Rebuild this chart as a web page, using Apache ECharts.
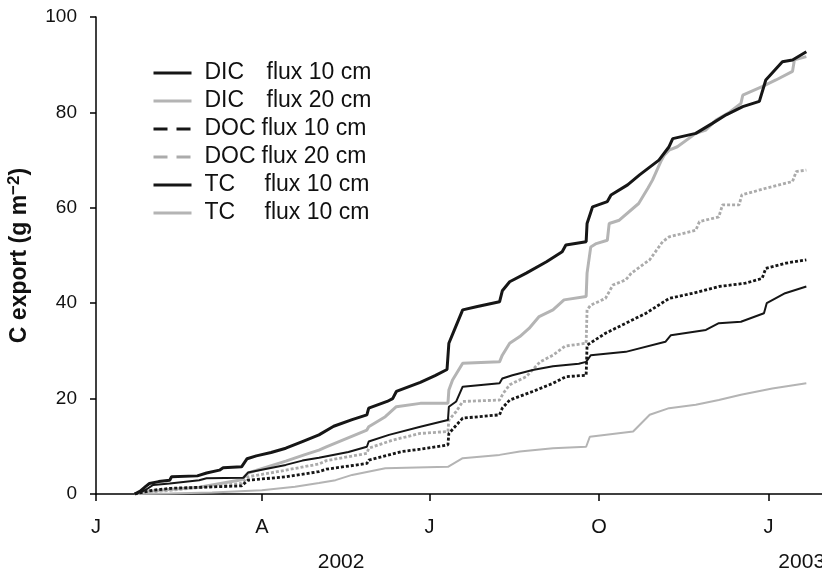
<!DOCTYPE html>
<html>
<head>
<meta charset="utf-8">
<script src="https://cdn.jsdelivr.net/npm/echarts@6/dist/echarts.min.js"></script>
<style>html,body{margin:0;padding:0;background:#fff;}#c{width:822px;height:570px;}</style>
</head>
<body>
<div id="c"></div>
<script>
// x values are days since 1 Jan 2002
const monthTickDays = [0, 90, 181, 273, 365];
const monthTickLabels = ['J', 'A', 'J', 'O', 'J'];
const yearLabelDays = [133, 383];
const yearLabels = ['2002', '2003'];

const tc10 = [[21,0],[24,0.6],[27,1.6],[29,2.2],[34,2.6],[40,2.9],[41,3.6],[55,3.8],[60,4.4],[67,5.0],[69,5.5],[79,5.7],[82,7.4],[87,8.0],[95,8.7],[103,9.6],[112,11.0],[121,12.4],[129,14.2],[139,15.6],[147,16.6],[148,18.0],[158,19.4],[161,20.0],[163,21.5],[176,23.4],[184,24.8],[190.5,26.1],[191.5,31.6],[194.5,34.4],[199,38.6],[207,39.3],[219,40.3],[220.5,42.6],[224.5,44.5],[233.5,46.3],[244.5,48.7],[253,50.8],[255,52.2],[266,52.9],[266.5,56.7],[269.5,60.2],[277.5,61.3],[279.5,62.7],[288.5,64.8],[295,66.9],[305.5,70.0],[311,72.8],[313,74.5],[325.5,75.6],[334.5,77.7],[342,79.5],[351,81.2],[360,82.3],[363.5,86.8],[372.5,90.6],[378,91.0],[385.5,92.7]];

const dic10 = [[21,0],[25,0.5],[27.5,1.0],[31,1.9],[40,2.2],[41,2.6],[56,2.9],[60,3.3],[80,3.4],[82.5,4.5],[103,6.1],[112,7.0],[121,7.6],[137,8.8],[147,9.9],[148,11.0],[159,12.4],[176,14.1],[191,15.5],[191.5,18.3],[195.5,19.4],[199,22.5],[219,23.2],[220.5,24.2],[226,24.9],[237,26.0],[248,26.8],[262,27.3],[266,27.7],[268.5,29.1],[287.5,29.8],[309,31.9],[312,33.3],[331,34.4],[338,35.8],[350,36.1],[362.5,37.9],[364,40.0],[374,42.1],[385.5,43.5]];

const doc10 = [[21,0],[26,0.4],[31,0.8],[41,1.2],[79,1.7],[82.5,2.9],[103,3.6],[121,4.7],[125,5.2],[147,6.4],[148,7.1],[166,8.9],[176,9.4],[191,10.3],[191.5,12.7],[199,15.9],[219,16.6],[220.5,18.0],[224.5,19.7],[237,21.5],[248,23.2],[255,24.6],[266,24.9],[266.5,31.2],[276.5,33.7],[287.5,35.8],[298.5,37.9],[311,41.0],[324,42.1],[338,43.5],[352.5,44.2],[361.5,45.2],[363.5,47.3],[374.5,48.4],[385.5,49.1]];

const doc20 = [[21,0],[28,0.4],[41,0.8],[79,2.2],[82.5,3.6],[103,5.0],[121,6.3],[125,7.0],[147,8.5],[148,9.6],[161,11.3],[176,12.7],[191,13.1],[191.5,15.5],[195.5,17.3],[199,19.4],[219,19.7],[221,21.1],[224.5,22.9],[233.5,24.6],[241,27.7],[248,29.1],[254.5,31.0],[266,31.6],[266.5,38.6],[268.5,39.6],[276.5,41.0],[280.5,43.8],[287.5,44.9],[290.5,46.3],[300.5,49.1],[307.5,52.9],[311,53.9],[325.5,55.3],[327.5,57.1],[338,58.1],[340,60.6],[349,60.6],[350.5,62.7],[363.5,64.1],[378,65.5],[380,67.6],[385.5,67.9]];

const dic20 = [[21,0],[40,0.1],[63,0.3],[90,0.8],[108,1.5],[121,2.3],[130,2.9],[139,4.0],[157,5.4],[191,5.7],[199,7.5],[219,8.2],[230,8.9],[248,9.6],[266,9.9],[268,12.0],[291.5,13.1],[300.5,16.6],[311,18.0],[325.5,18.7],[338,19.7],[350,20.8],[367,22.1],[385.5,23.2]];

const tc20 = [[21,0],[27,0.5],[41,1.0],[56,1.4],[79,3.0],[82.5,4.4],[103,6.9],[113,8.2],[121,9.2],[125,9.9],[147,13.4],[148,14.1],[157,16.2],[163,18.3],[176,19.0],[191,19.0],[191.5,21.8],[193.5,23.9],[199,27.4],[219,27.7],[220.5,29.1],[224.5,31.6],[230,33.0],[235,34.7],[240.5,37.2],[248,38.6],[254,40.7],[266,41.4],[266.5,46.3],[268.5,51.8],[271.5,52.5],[277.5,53.2],[278.5,56.7],[284,57.4],[294.5,60.9],[299.5,64.1],[302,65.8],[306.5,69.7],[308.5,71.1],[311,72.1],[315.5,72.8],[325.5,75.6],[331,76.3],[336.5,78.4],[344,80.1],[350,81.9],[351,83.6],[361.5,85.4],[369,86.8],[378,88.6],[379,91.0],[385.5,91.7]];

// legend rows in the original figure (labels as printed there)
const legendOrder = ['TC10', 'TC20', 'DOC10', 'DOC20', 'DIC10', 'DIC20'];
const legendText = {
  TC10: '{kd|DIC}{v|flux 10 cm}',
  TC20: '{kd|DIC}{v|flux 20 cm}',
  DOC10: '{ko|DOC}{v|flux 10 cm}',
  DOC20: '{ko|DOC}{v|flux 20 cm}',
  DIC10: '{kt|TC}{v|flux 10 cm}',
  DIC20: '{kt|TC}{v|flux 10 cm}'
};

const BLACK = '#161616', GREY = '#b4b4b4', GREYD = '#ababab';
const FONT = "'Liberation Sans', Arial, sans-serif";

function mk(name, data, color, width, type) {
  return {
    name: name, type: 'line', data: data, symbol: 'none', showSymbol: false,
    lineStyle: { color: color, width: width, type: type || 'solid', cap: 'butt' },
    itemStyle: { color: color },
    emphasis: { disabled: true }, silent: true, animation: false
  };
}

const chart = echarts.init(document.getElementById('c'), null, { renderer: 'canvas' });
const rowLH = 28;
const LF = 23;
chart.setOption({
  backgroundColor: '#ffffff',
  animation: false,
  grid: { left: 96, right: 0, top: 17, bottom: 76, containLabel: false, outerBoundsMode: 'none' },
  legend: {
    orient: 'vertical', left: 152, top: 59, padding: 0,
    itemWidth: 38, itemHeight: 14, itemGap: 0,
    itemStyle: { opacity: 0 },
    data: legendOrder.map(function (n) {
      const o = { name: n };
      if (n.indexOf('DOC') === 0) o.lineStyle = { type: [14, 9], width: 3 };
      else o.lineStyle = { width: 3 };
      return o;
    }),
    formatter: function (n) { return legendText[n]; },
    textStyle: {
      color: '#111', fontFamily: FONT, fontSize: LF, lineHeight: rowLH,
      rich: {
        kd: { fontFamily: FONT, fontSize: LF, width: 62, padding: [0, 0, 0, 8], lineHeight: rowLH, color: '#111' },
        kt: { fontFamily: FONT, fontSize: LF, width: 60, padding: [0, 0, 0, 8], lineHeight: rowLH, color: '#111' },
        ko: { fontFamily: FONT, fontSize: LF, width: 57, padding: [0, 0, 0, 8], lineHeight: rowLH, color: '#111' },
        v: { fontFamily: FONT, fontSize: LF, lineHeight: rowLH, color: '#111' }
      }
    }
  },
  xAxis: [
    {
      type: 'value', min: 0, max: 394, position: 'bottom',
      splitLine: { show: false },
      axisLine: { show: true, onZero: false, lineStyle: { color: '#000', width: 1.5 } },
      axisTick: { show: true, inside: false, length: 7, customValues: monthTickDays, lineStyle: { color: '#000', width: 1.5 } },
      axisLabel: {
        show: true, margin: 23, customValues: monthTickDays,
        formatter: function (v) { const i = monthTickDays.indexOf(v); return i >= 0 ? monthTickLabels[i] : ''; },
        color: '#111', fontFamily: FONT, fontSize: 20
      }
    },
    {
      type: 'value', min: 0, max: 394, position: 'bottom',
      splitLine: { show: false },
      axisLine: { show: false }, axisTick: { show: false },
      axisLabel: {
        show: true, margin: 58, customValues: yearLabelDays,
        formatter: function (v) { const i = yearLabelDays.indexOf(v); return i >= 0 ? yearLabels[i] : ''; },
        color: '#111', fontFamily: FONT, fontSize: 21
      }
    }
  ],
  yAxis: {
    type: 'value', min: 0, max: 100, interval: 20,
    name: 'C export (g m{s|\u22122})', nameLocation: 'middle', nameGap: 62,
    nameTextStyle: {
      color: '#111', fontFamily: FONT, fontSize: 23, fontWeight: 'bold', lineHeight: 28,
      rich: {
        s: { color: '#111', fontFamily: FONT, fontSize: 17, fontWeight: 'bold', verticalAlign: 'top', lineHeight: 16 }
      }
    },
    splitLine: { show: false },
    axisLine: { show: true, lineStyle: { color: '#000', width: 1.5 } },
    axisTick: { show: true, inside: false, length: 6, lineStyle: { color: '#000', width: 1.5 } },
    axisLabel: { margin: 19, color: '#111', fontFamily: FONT, fontSize: 19 }
  },
  series: [
    mk('DIC20', dic20, GREY, 2, 'solid'),
    mk('DOC20', doc20, GREYD, 2.8, [3, 2]),
    mk('TC20', tc20, GREY, 3, 'solid'),
    mk('DIC10', dic10, BLACK, 2, 'solid'),
    mk('DOC10', doc10, BLACK, 2.8, [3, 2]),
    mk('TC10', tc10, BLACK, 3, 'solid')
  ]
});
</script>
</body>
</html>
